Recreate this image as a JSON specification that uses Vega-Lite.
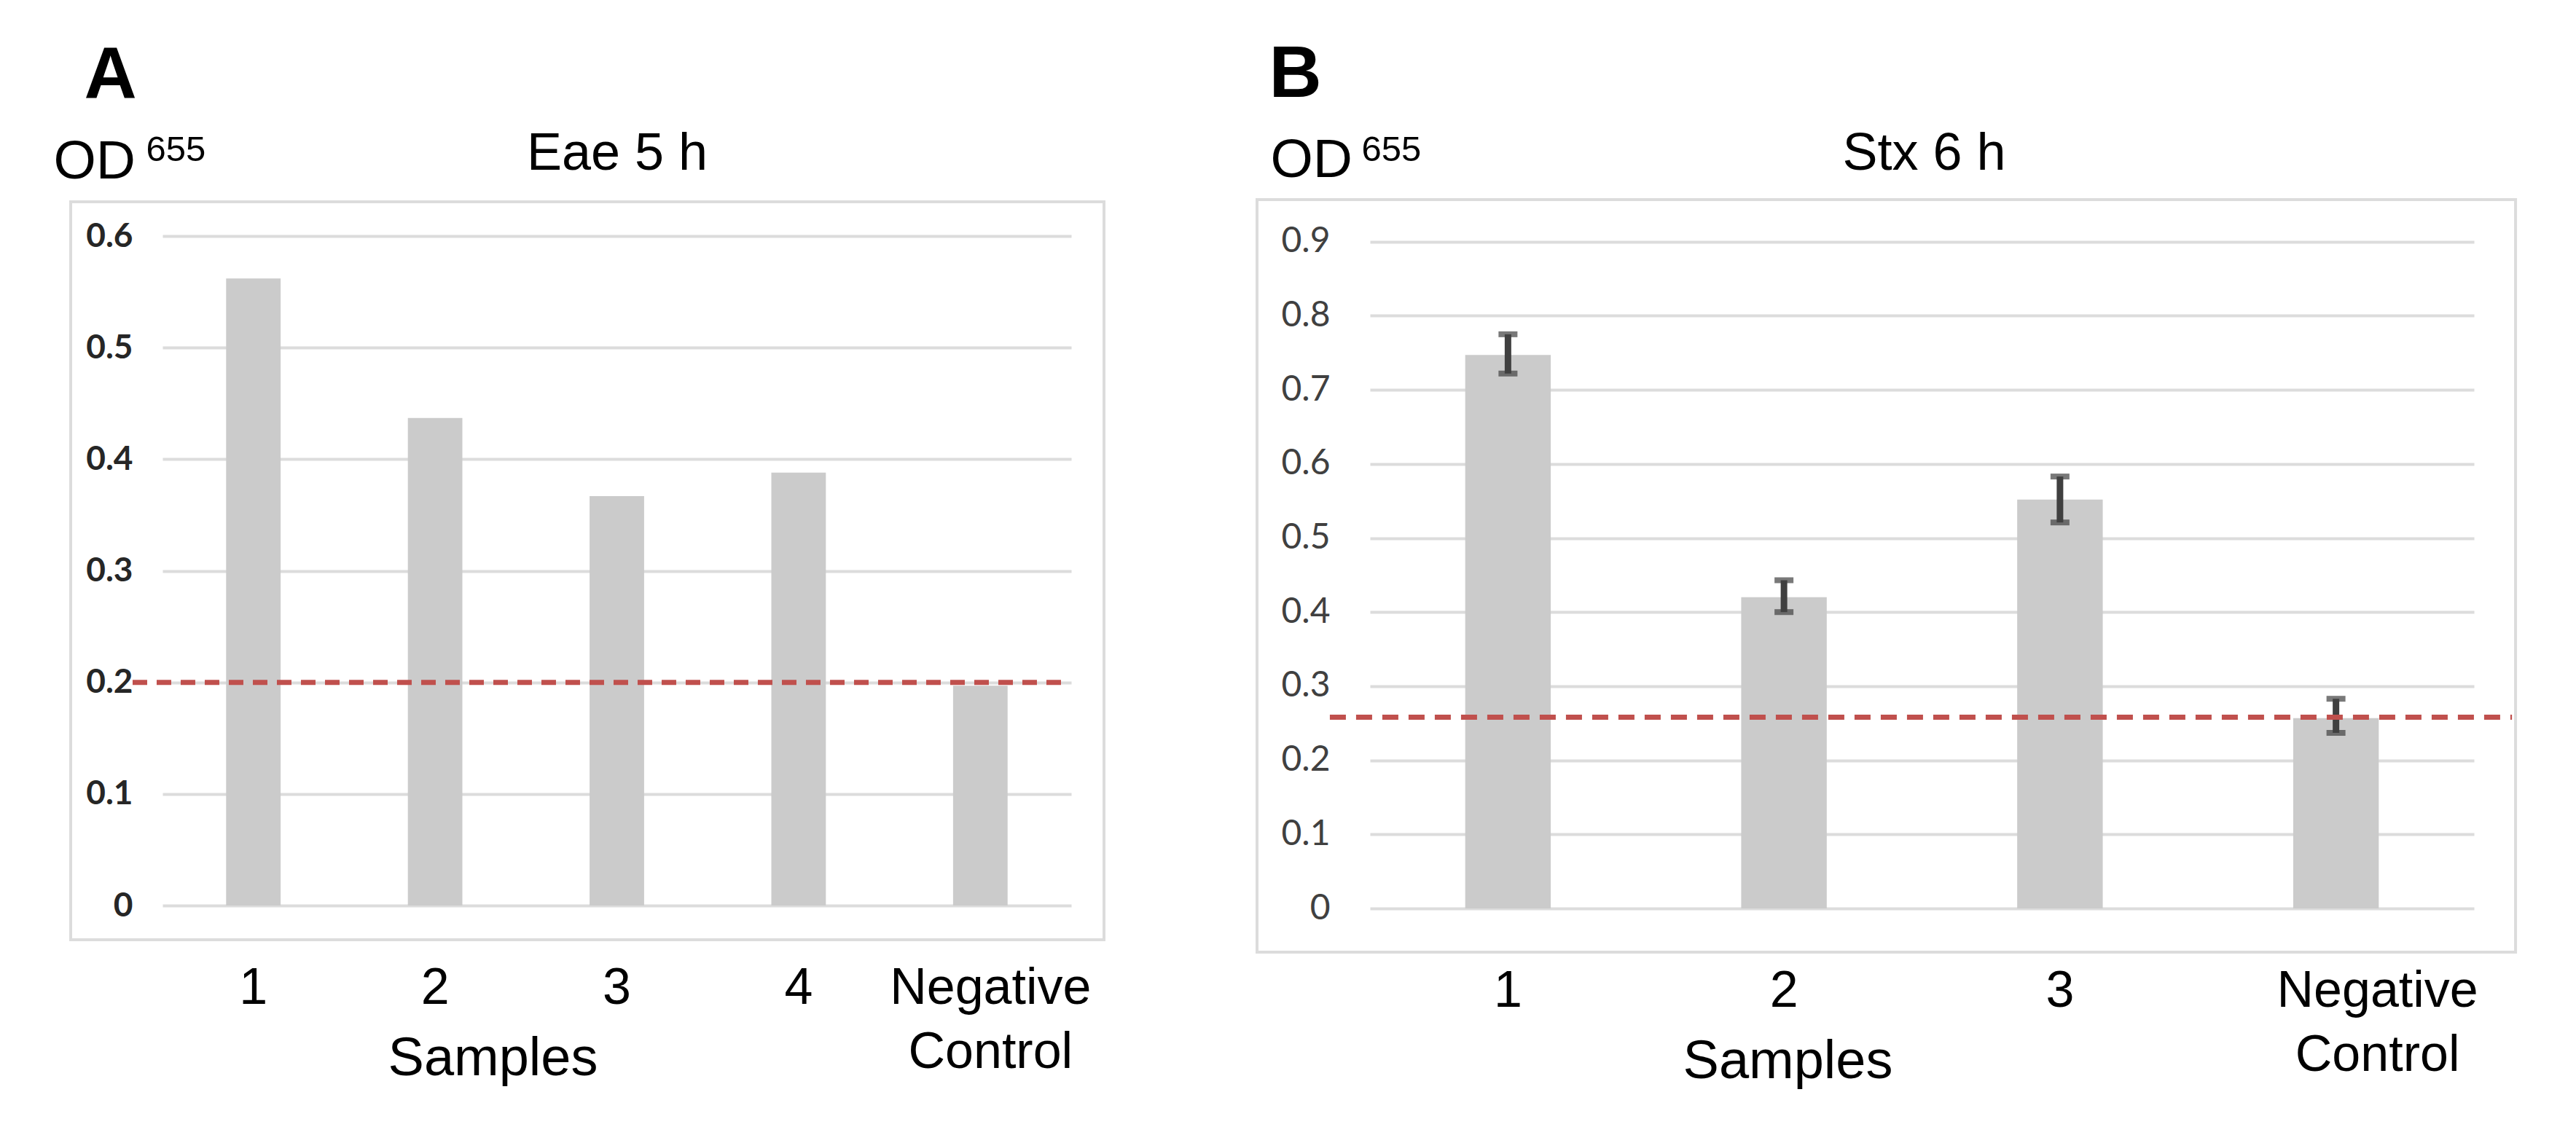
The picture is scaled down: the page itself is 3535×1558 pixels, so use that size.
{
  "$schema": "https://vega.github.io/schema/vega-lite/v6.json",
  "background": "white",
  "padding": {"left": 73, "top": 52, "right": 10, "bottom": 10},
  "spacing": 206,
  "config": {"view": {"stroke": null}},
  "datasets": {
    "eae": [
      {"sample": "1", "od": 0.562},
      {"sample": "2", "od": 0.437},
      {"sample": "3", "od": 0.367},
      {"sample": "4", "od": 0.388},
      {"sample": "Negative Control", "od": 0.197}
    ],
    "stx": [
      {"sample": "1", "od": 0.747, "lo": 0.722, "hi": 0.775},
      {"sample": "2", "od": 0.42, "lo": 0.4, "hi": 0.443},
      {"sample": "3", "od": 0.552, "lo": 0.521, "hi": 0.583},
      {"sample": "Negative Control", "od": 0.257, "lo": 0.237, "hi": 0.283}
    ],
    "cutoffA": [{"cutoff": 0.2}],
    "cutoffB": [{"cutoff": 0.258}]
  },
  "hconcat": [
    {
      "width": 1247,
      "height": 919,
      "layer": [
        {
          "data": {"name": "cutoffA"},
          "mark": {"type": "rect", "fillOpacity": 0, "stroke": "#dcdcdc", "strokeWidth": 4},
          "encoding": {
            "x": {"datum": "1", "bandPosition": -2.851, "axis": {"orient": "top", "labels": false, "ticks": false, "domain": false, "grid": false, "title": "Eae 5 h", "titleFont": "Liberation Sans", "titleFontSize": 72, "titleFontWeight": "normal", "titleColor": "#000000", "titleAlign": "center", "titleBaseline": "alphabetic", "titleX": 623.5, "titleY": -92}},
            "x2": {"datum": "Negative Control", "bandPosition": 2.768},
            "y": {"datum": -0.0307, "axis": {"orient": "right", "labels": false, "ticks": false, "domain": false, "grid": false, "title": "A", "titleFont": "Liberation Sans", "titleFontSize": 100, "titleFontWeight": "bold", "titleColor": "#000000", "titleAngle": 0, "titleAlign": "left", "titleBaseline": "alphabetic", "titleX": -1355, "titleY": -190}},
            "y2": {"datum": 0.6307}
          }
        },
        {
          "data": {"name": "eae"},
          "mark": {"type": "bar", "color": "#cbcbcb"},
          "encoding": {
            "x": {
              "field": "sample", "type": "nominal", "sort": null,
              "scale": {"domain": ["1", "2", "3", "4", "Negative Control"], "paddingInner": 0.7, "paddingOuter": 0.35},
              "axis": {"orient": "bottom", "labelAngle": 0, "labelFont": "Liberation Sans", "labelFontSize": 70, "labelColor": "#000000", "labelPadding": 79, "labelLineHeight": 88, "labelLimit": 1000, "labelExpr": "datum.label == 'Negative Control' ? ['Negative', 'Control'] : datum.label", "labelOffset": {"condition": {"test": "datum.value == 'Negative Control'", "value": 14}, "value": 0}, "ticks": false, "tickSize": 0, "domain": false, "grid": false, "title": "Samples", "titleFont": "Liberation Sans", "titleFontSize": 74, "titleFontWeight": "normal", "titleColor": "#000000", "titleAlign": "center", "titleBaseline": "alphabetic", "titleX": 453, "titleY": 232}
            },
            "y": {
              "field": "od", "type": "quantitative",
              "scale": {"domain": [0, 0.6], "nice": false},
              "axis": {"orient": "left", "values": [0, 0.1, 0.2, 0.3, 0.4, 0.5, 0.6], "format": ".1~f", "labelFont": "Lato", "labelFontWeight": "bold", "labelFontSize": 46, "labelColor": "#262626", "labelPadding": 41, "ticks": false, "tickSize": 0, "domain": false, "grid": true, "gridColor": "#dcdcdc", "gridWidth": 4, "title": "OD", "titleFont": "Liberation Sans", "titleFontSize": 75, "titleFontWeight": "normal", "titleColor": "#000000", "titleAngle": 0, "titleAlign": "left", "titleBaseline": "alphabetic", "titleX": -150, "titleY": -80}
            }
          }
        },
        {
          "data": {"name": "cutoffA"},
          "mark": {"type": "rule", "color": "#c0504d", "strokeWidth": 7, "strokeDash": [20, 13]},
          "encoding": {
            "x": {"datum": "1", "bandPosition": -1.715, "axis": null},
            "x2": {"datum": "Negative Control", "bandPosition": 2.1},
            "y": {"field": "cutoff", "type": "quantitative", "axis": {"orient": "left", "labels": false, "ticks": false, "domain": false, "grid": false, "title": "655", "titleFont": "Liberation Sans", "titleFontSize": 49, "titleFontWeight": "normal", "titleColor": "#000000", "titleAngle": 0, "titleAlign": "left", "titleBaseline": "alphabetic", "titleX": -23, "titleY": -104}}
          }
        }
      ],
      "resolve": {"axis": {"x": "independent", "y": "independent"}}
    },
    {
      "width": 1515,
      "height": 923,
      "layer": [
        {
          "data": {"name": "cutoffB"},
          "mark": {"type": "rect", "fillOpacity": 0, "stroke": "#dcdcdc", "strokeWidth": 4},
          "encoding": {
            "x": {"datum": "1", "bandPosition": -2.433, "axis": {"orient": "top", "labels": false, "ticks": false, "domain": false, "grid": false, "title": "Stx 6 h", "titleFont": "Liberation Sans", "titleFontSize": 72, "titleFontWeight": "normal", "titleColor": "#000000", "titleAlign": "center", "titleBaseline": "alphabetic", "titleX": 760, "titleY": -92}},
            "x2": {"datum": "Negative Control", "bandPosition": 2.599},
            "y": {"datum": -0.059, "axis": {"orient": "right", "labels": false, "ticks": false, "domain": false, "grid": false, "title": "B", "titleFont": "Liberation Sans", "titleFontSize": 100, "titleFontWeight": "bold", "titleColor": "#000000", "titleAngle": 0, "titleAlign": "left", "titleBaseline": "alphabetic", "titleX": -1654, "titleY": -192}},
            "y2": {"datum": 0.9567}
          }
        },
        {
          "data": {"name": "stx"},
          "mark": {"type": "bar", "color": "#cbcbcb"},
          "encoding": {
            "x": {
              "field": "sample", "type": "nominal", "sort": null,
              "scale": {"domain": ["1", "2", "3", "Negative Control"], "paddingInner": 0.69, "paddingOuter": 0.345},
              "axis": {"orient": "bottom", "labelAngle": 0, "labelFont": "Liberation Sans", "labelFontSize": 70, "labelColor": "#000000", "labelPadding": 79, "labelLineHeight": 88, "labelLimit": 1000, "labelExpr": "datum.label == 'Negative Control' ? ['Negative', 'Control'] : datum.label", "labelOffset": {"condition": {"test": "datum.value == 'Negative Control'", "value": 57}, "value": 0}, "ticks": false, "tickSize": 0, "domain": false, "grid": false, "title": "Samples", "titleFont": "Liberation Sans", "titleFontSize": 74, "titleFontWeight": "normal", "titleColor": "#000000", "titleAlign": "center", "titleBaseline": "alphabetic", "titleX": 573, "titleY": 232}
            },
            "y": {
              "field": "od", "type": "quantitative",
              "scale": {"domain": [0, 0.9076], "nice": false},
              "axis": {"orient": "left", "values": [0, 0.1, 0.2, 0.3, 0.4, 0.5, 0.6, 0.7, 0.8, 0.9], "format": ".1~f", "labelFont": "Lato", "labelFontWeight": "normal", "labelFontSize": 48, "labelColor": "#404040", "labelPadding": 55, "ticks": false, "tickSize": 0, "domain": false, "grid": true, "gridColor": "#dcdcdc", "gridWidth": 4, "title": "OD", "titleFont": "Liberation Sans", "titleFontSize": 75, "titleFontWeight": "normal", "titleColor": "#000000", "titleAngle": 0, "titleAlign": "left", "titleBaseline": "alphabetic", "titleX": -137, "titleY": -82}
            }
          }
        },
        {
          "data": {"name": "stx"},
          "mark": {"type": "rule", "color": "#404040", "strokeWidth": 9},
          "encoding": {
            "x": {"field": "sample", "type": "nominal", "axis": null},
            "y": {"field": "lo", "type": "quantitative", "axis": null},
            "y2": {"field": "hi"}
          }
        },
        {
          "data": {"name": "stx"},
          "mark": {"type": "tick", "color": "#404040", "thickness": 8, "size": 26},
          "encoding": {
            "x": {"field": "sample", "type": "nominal", "axis": null},
            "y": {"field": "lo", "type": "quantitative", "axis": null}
          }
        },
        {
          "data": {"name": "stx"},
          "mark": {"type": "tick", "color": "#404040", "thickness": 8, "size": 26},
          "encoding": {
            "x": {"field": "sample", "type": "nominal", "axis": null},
            "y": {"field": "hi", "type": "quantitative", "axis": null}
          }
        },
        {
          "data": {"name": "cutoffB"},
          "mark": {"type": "rule", "color": "#c0504d", "strokeWidth": 7, "strokeDash": [22, 14]},
          "encoding": {
            "x": {"datum": "1", "bandPosition": -1.582, "axis": null},
            "x2": {"datum": "Negative Control", "bandPosition": 2.557},
            "y": {"field": "cutoff", "type": "quantitative", "axis": {"orient": "left", "labels": false, "ticks": false, "domain": false, "grid": false, "title": "655", "titleFont": "Liberation Sans", "titleFontSize": 49, "titleFontWeight": "normal", "titleColor": "#000000", "titleAngle": 0, "titleAlign": "left", "titleBaseline": "alphabetic", "titleX": -12, "titleY": -104}}
          }
        }
      ],
      "resolve": {"axis": {"x": "independent", "y": "independent"}}
    }
  ]
}
